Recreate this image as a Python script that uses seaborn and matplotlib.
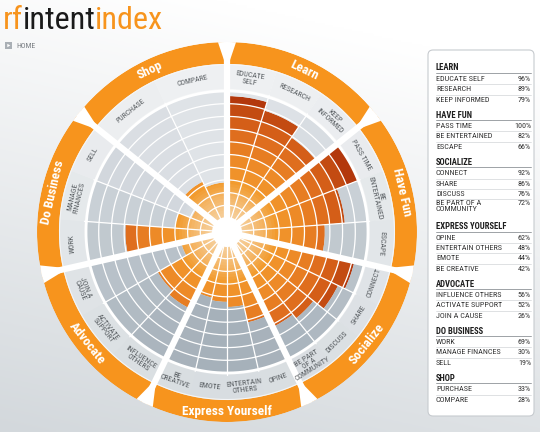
import numpy as np
import matplotlib
matplotlib.use("Agg")
import matplotlib.pyplot as plt
from matplotlib import font_manager
from matplotlib.colors import to_rgb
from matplotlib.patches import FancyBboxPatch, Rectangle
import seaborn as sns

# --- data ---------------------------------------------------------------
categories = ["Learn", "Have Fun", "Socialize", "Express Yourself",
              "Advocate", "Do Business", "Shop"]

learn_labels = ["EDUCATE\nSELF", "RESEARCH", "KEEP\nINFORMED"]
learn_vals = [96, 89, 79]
fun_labels = ["PASS TIME", "BE\nENTERTAINED", "ESCAPE"]
fun_vals = [100, 82, 66]
social_labels = ["CONNECT", "SHARE", "DISCUSS", "BE PART\nOF A\nCOMMUNITY"]
social_vals = [92, 86, 76, 72]
express_labels = ["OPINE", "ENTERTAIN\nOTHERS", "EMOTE", "BE\nCREATIVE"]
express_vals = [62, 48, 44, 42]
advocate_labels = ["INFLUENCE\nOTHERS", "ACTIVATE\nSUPPORT", "JOIN A\nCAUSE"]
advocate_vals = [56, 52, 26]
business_labels = ["WORK", "MANAGE\nFINANCES", "SELL"]
business_vals = [69, 30, 19]
shop_labels = ["PURCHASE", "COMPARE"]
shop_vals = [33, 28]

group_labels = [learn_labels, fun_labels, social_labels, express_labels,
                advocate_labels, business_labels, shop_labels]
group_vals = [learn_vals, fun_vals, social_vals, express_vals,
              advocate_vals, business_vals, shop_vals]

# --- style ---------------------------------------------------------------
sns.set_style("white")
names = {f.name for f in font_manager.fontManager.ttflist}
narrow = "DejaVu Sans"
for cand in ["Liberation Sans Narrow", "Roboto Condensed", "DejaVu Sans Condensed",
             "Roboto", "Liberation Sans"]:
    if cand in names:
        narrow = cand
        break
plt.rcParams["font.family"] = [narrow, "DejaVu Sans"]

ORANGE = "#f7941d"
ring_cols = sns.blend_palette(["#f5a640", "#f2992c", "#ec8525", "#d8631a", "#b3380c"], 10)


def mix(c1, c2, t):
    a, b = np.array(to_rgb(c1)), np.array(to_rgb(c2))
    return tuple(a + (b - a) * t)


def gray_at(th, lo="#a6b1ba", hi="#e0e4e8"):
    return mix(lo, hi, (1 + np.cos(th)) / 2)


R_IN, R_100 = 14, 141


def rad(v):
    return R_IN + v / 100 * (R_100 - R_IN)


fig = plt.figure(figsize=(5.4, 4.32), dpi=100)

# background gradient
bg = fig.add_axes([0, 0, 1, 1])
yy, xx = np.mgrid[0:1:200j, 0:1:200j]
t = np.clip(0.1 + 0.9 * yy - 0.25 * xx, 0, 1)
img = np.dstack([1 - t * (1 - c) for c in to_rgb("#d3d8dc")])
bg.imshow(img, extent=[0, 540, 432, 0], aspect="auto", zorder=0)
bg.set_xlim(0, 540)
bg.set_ylim(432, 0)
bg.axis("off")

# --- wheel ---------------------------------------------------------------
ax = fig.add_axes([37 / 540, 10 / 432, 380 / 540, 380 / 432], projection="polar")
ax.set_theta_zero_location("N")
ax.set_theta_direction(-1)
ax.set_ylim(0, 190)
ax.patch.set_alpha(0)
ax.axis("off")

cat_w = 2 * np.pi / len(categories)
item_edges = []
for c, (labs, vals) in enumerate(zip(group_labels, group_vals)):
    iw = cat_w / len(vals)
    c0 = c * cat_w
    mid = c0 + cat_w / 2
    # label band + orange band
    for j in range(len(vals)):
        th = c0 + (j + 0.5) * iw
        ax.bar(th, 24, width=iw, bottom=143, color=gray_at(th, "#d8dde1", "#eef0f2"), lw=0)
    ax.bar(mid, 22, width=cat_w, bottom=168, color=ORANGE, lw=0)
    for j, (lab, v) in enumerate(zip(labs, vals)):
        th = c0 + (j + 0.5) * iw
        if j > 0:
            item_edges.append(c0 + j * iw)
        for k in range(10):
            lo, hi = k * 10, (k + 1) * 10
            if v > lo:
                top = min(v, hi)
                ax.bar(th, rad(top) - rad(lo), width=iw, bottom=rad(lo),
                       color=ring_cols[k], lw=0)
            if v < hi:
                b = max(v, lo)
                ax.bar(th, rad(hi) - rad(b), width=iw, bottom=rad(b),
                       color=gray_at(th), lw=0)
        deg = np.degrees(th)
        rot = 180 - deg if 100 < deg < 260 else -deg
        ax.text(th, 155, lab, rotation=rot, rotation_mode="anchor", ha="center",
                va="center", fontsize=5.6, color="#555a5e", linespacing=1.05)
    deg = np.degrees(mid)
    rot = 180 - deg if 100 < deg < 260 else -deg
    ax.text(mid, 179, categories[c], rotation=rot, rotation_mode="anchor",
            ha="center", va="center", fontsize=9.5, weight="bold", color="white")

# glow in the centre
for r in np.linspace(48, 16, 12):
    ax.bar(0, r, width=2 * np.pi, bottom=0, color="white", alpha=0.055, lw=0)

# grid
circ = np.linspace(0, 2 * np.pi, 500)
for v in range(10, 101, 10):
    ax.plot(circ, np.full_like(circ, rad(v)), color="white", lw=0.9 if v < 100 else 2)
ax.plot(circ, np.full_like(circ, 167.5), color="#f4f5f6", lw=0.8)
for th in item_edges:
    ax.plot([th, th], [R_IN, 143], color="white", lw=0.9)
for c in range(len(categories)):
    th = c * cat_w
    ax.plot([th, th], [0, 192], color="white", lw=4.5, solid_capstyle="butt")
    d = 10 / 192
    ax.fill([th, th - d, th + d], [163, 193, 193], color="white", lw=0)
ax.bar(0, 15, width=2 * np.pi, bottom=0, color="white", lw=0)

# --- header --------------------------------------------------------------
parts = [("rf", ORANGE), ("intent", "#1a1a1a"), ("index", ORANGE)]
size = 23
for attempt in range(2):
    x = 3
    texts = []
    for part, col in parts:
        tx = bg.text(x, 29, part, color=col, fontsize=size, va="baseline", ha="left")
        fig.canvas.draw()
        texts.append(tx)
        x = tx.get_window_extent().x1 - 0.5
    if attempt == 0:
        size = size * 160 / (x - 3)
        for tx in texts:
            tx.remove()

bg.add_patch(Rectangle((5, 42), 7, 7, fc="#a9afb5", ec="none"))
bg.fill([7.3, 7.3, 10.3], [43.8, 47.2, 45.5], color="white", lw=0)
bg.text(16, 46, "HOME", fontsize=5.6, color="#7a7f84", va="center")

# --- side panel ----------------------------------------------------------
bg.add_patch(FancyBboxPatch((428, 50), 106, 366,
                            boxstyle="round,pad=0,rounding_size=5",
                            fc="white", ec="#c7cbcf", lw=0.8, zorder=2))
y = 68
for c, (labs, vals) in enumerate(zip(group_labels, group_vals)):
    bg.text(436, y, categories[c].upper(), fontsize=6.2, weight="bold",
            color="#1e1e1e", va="center", zorder=3)
    bg.plot([436, 531], [y + 5, y + 5], color="#8e9398", lw=0.6, zorder=3)
    y += 11
    for j, (lab, v) in enumerate(zip(labs, vals)):
        name = lab.replace("\n", " ")
        extra = 0
        if name.startswith("BE PART"):
            name = "BE PART OF A\nCOMMUNITY"
            extra = 7
        if j > 0:
            bg.plot([436, 531], [y - 5, y - 5], color="#d2d5d8", lw=0.5, zorder=3)
        va = "top" if extra else "center"
        yt = y - 3.8 if extra else y
        bg.text(436, yt, name, fontsize=5.9, color="#333333", va=va,
                linespacing=1.0, zorder=3)
        bg.text(531, yt, f"{v}%", fontsize=5.9, color="#333333", ha="right",
                va=va, zorder=3)
        y += 10.3 + extra
    y += 5.2

fig.savefig("out.png", dpi=100)
